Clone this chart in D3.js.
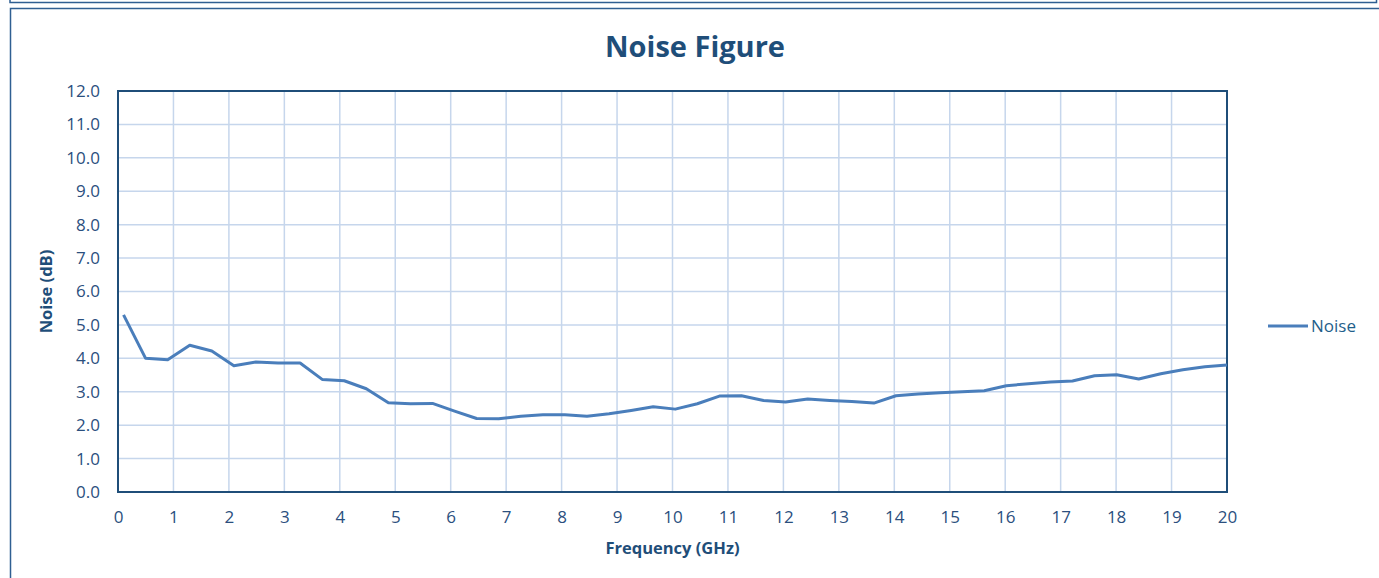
<!DOCTYPE html>
<html>
<head>
<meta charset="utf-8">
<script src="https://cdn.jsdelivr.net/npm/d3@7"></script>
<style>
  html, body { margin: 0; padding: 0; background: #fff; }
  svg { display: block; font-family: 'Open Sans', sans-serif; }
</style>
</head>
<body>
<script>
const freqs = [0.100, 0.498, 0.896, 1.294, 1.692, 2.090, 2.488, 2.886, 3.284, 3.682,
  4.080, 4.478, 4.876, 5.274, 5.672, 6.070, 6.468, 6.866, 7.264, 7.662,
  8.060, 8.458, 8.856, 9.254, 9.652, 10.050, 10.448, 10.846, 11.244, 11.642,
  12.040, 12.438, 12.836, 13.234, 13.632, 14.030, 14.428, 14.826, 15.224, 15.622,
  16.020, 16.418, 16.816, 17.214, 17.612, 18.010, 18.408, 18.806, 19.204, 19.602, 20.000]
const noise = [5.30, 4.00, 3.96, 4.39, 4.22, 3.78, 3.89, 3.86, 3.86, 3.37,
  3.33, 3.09, 2.67, 2.64, 2.65, 2.42, 2.20, 2.19, 2.27, 2.31,
  2.31, 2.27, 2.34, 2.44, 2.55, 2.48, 2.64, 2.87, 2.88, 2.74,
  2.69, 2.78, 2.74, 2.71, 2.66, 2.88, 2.93, 2.97, 3.00, 3.03,
  3.18, 3.24, 3.29, 3.32, 3.48, 3.51, 3.38, 3.54, 3.66, 3.75, 3.80]
const xTicks = [0, 1, 2, 3, 4, 5, 6, 7, 8, 9, 10, 11, 12, 13, 14, 15, 16, 17, 18, 19, 20]
const yTicks = [0, 1, 2, 3, 4, 5, 6, 7, 8, 9, 10, 11, 12]

const width = 1379
const height = 578
const m = { left: 118, top: 91, right: 1227, bottom: 492 }
const navy = '#1F4E79'
const textCol = '#2B4F7E'

const svg = d3.select('body').append('svg')
  .attr('width', width)
  .attr('height', height)

// outer frames
svg.append('path')
  .attr('d', `M10,-2 V2.5 H1376.5 V-2`)
  .attr('fill', 'none').attr('stroke', '#2F5F92').attr('stroke-width', 1.5)
svg.append('path')
  .attr('d', `M10.5,590 V8.5 H1390`)
  .attr('fill', 'none').attr('stroke', '#2F5F92').attr('stroke-width', 1.5)

const x = d3.scaleLinear().domain([0, 20]).range([m.left, m.right])
const y = d3.scaleLinear().domain([0, 12]).range([m.bottom, m.top])

// grid
svg.append('g').selectAll('line.v')
  .data(xTicks.slice(1, -1))
  .join('line')
    .attr('x1', d => x(d)).attr('x2', d => x(d))
    .attr('y1', m.top).attr('y2', m.bottom)
    .attr('stroke', '#C6D6EC').attr('stroke-width', 1.5)
svg.append('g').selectAll('line.h')
  .data(yTicks.slice(1, -1))
  .join('line')
    .attr('x1', m.left).attr('x2', m.right)
    .attr('y1', d => y(d)).attr('y2', d => y(d))
    .attr('stroke', '#C6D6EC').attr('stroke-width', 1.5)

// axes labels
const xAxis = svg.append('g')
  .attr('transform', `translate(0,${m.bottom})`)
  .call(d3.axisBottom(x).tickValues(xTicks).tickSize(0).tickPadding(19).tickFormat(d3.format('d')))
const yAxis = svg.append('g')
  .attr('transform', `translate(${m.left},0)`)
  .call(d3.axisLeft(y).tickValues(yTicks).tickSize(0).tickPadding(18).tickFormat(d3.format('.1f')))
;[xAxis, yAxis].forEach(g => {
  g.select('.domain').remove()
  g.selectAll('text')
    .attr('fill', textCol)
    .style('font-family', "'Open Sans', sans-serif")
    .style('font-size', '17px')
})

// plot border
svg.append('rect')
  .attr('x', m.left).attr('y', m.top)
  .attr('width', m.right - m.left).attr('height', m.bottom - m.top)
  .attr('fill', 'none').attr('stroke', navy).attr('stroke-width', 2)

// series
const line = d3.line().x((d, i) => x(freqs[i])).y(d => y(d))
svg.append('path')
  .datum(noise)
  .attr('d', line)
  .attr('fill', 'none')
  .attr('stroke', '#4A7EBB')
  .attr('stroke-width', 3)
  .attr('stroke-linejoin', 'round')

// titles
svg.append('text')
  .attr('x', 695).attr('y', 57)
  .attr('text-anchor', 'middle')
  .attr('fill', navy)
  .style('font-size', '29px').style('font-weight', 'bold')
  .text('Noise Figure')
svg.append('text')
  .attr('x', (m.left + m.right) / 2).attr('y', 554)
  .attr('text-anchor', 'middle')
  .attr('fill', navy)
  .style('font-size', '16.5px').style('font-weight', 'bold')
  .text('Frequency (GHz)')
svg.append('text')
  .attr('transform', `translate(52,${(m.top + m.bottom) / 2}) rotate(-90)`)
  .attr('text-anchor', 'middle')
  .attr('fill', navy)
  .style('font-size', '16.5px').style('font-weight', 'bold')
  .text('Noise (dB)')

// legend
const lg = svg.append('g').attr('transform', 'translate(1268,326)')
lg.append('line').attr('x1', 0).attr('x2', 40).attr('y1', 0).attr('y2', 0)
  .attr('stroke', '#4A7EBB').attr('stroke-width', 3)
lg.append('text').attr('x', 43).attr('y', 6)
  .attr('fill', '#1F5F8B')
  .style('font-size', '17px')
  .text('Noise')
</script>
</body>
</html>
